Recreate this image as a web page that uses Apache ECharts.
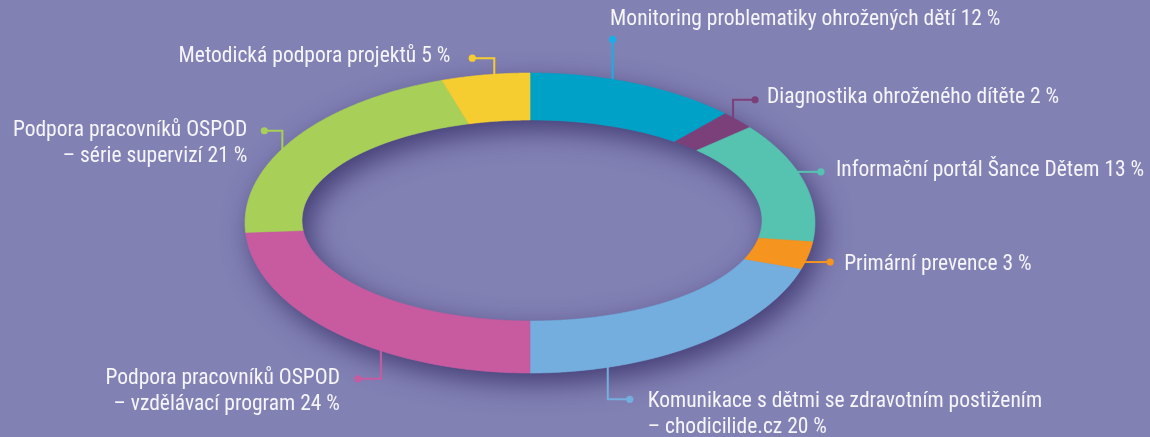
<!DOCTYPE html>
<html><head><meta charset="utf-8">
<script src="https://cdn.jsdelivr.net/npm/echarts@6/dist/echarts.min.js"></script>
<style>html,body{margin:0;padding:0;background:#8281b4;overflow:hidden}#c{width:1150px;height:437px}</style>
</head><body><div id="c"></div>
<script>
// ---- data ----
const categories = [
  'Monitoring problematiky ohrožených dětí',
  'Diagnostika ohroženého dítěte',
  'Informační portál Šance Dětem',
  'Primární prevence',
  'Komunikace s dětmi se zdravotním postižením\n– chodicilide.cz',
  'Podpora pracovníků OSPOD\n– vzdělávací program',
  'Podpora pracovníků OSPOD\n– série supervizí',
  'Metodická podpora projektů'
];
const values = [12, 2, 13, 3, 20, 24, 21, 5];

// ---- styles / layout ----
const colors = ['#00a1c7','#7b4079','#55c3b0','#f5941f','#73aedf','#c85aa0','#a8d058','#f6cd31'];
const lineColors = ['#1aaee6','#7b4079','#55c3b0','#f5941f','#73aedf','#c85aa0','#a8d058','#f6cd31'];
const geo = { cx: 530, cy: 223, rx: 285, ry: 150, icx: 532, icy: 220.5, irx: 230, iry: 100.5 };
const FONT = '"Liberation Sans Narrow", "Roboto Condensed", "DejaVu Sans Condensed", sans-serif';
const FS = 21.5, LH = 26;
// leader: fraction inside slice where line meets ring, elbow segments, text offset from dot
const labelLayout = [
  { frac: 0.39, path: [[0, -40]],          tx: -2.5, ty: -20, align: 'left' },
  { frac: 0.31, path: [[0, -18], [22, 0]], tx: 12,   ty: -2,  align: 'left' },
  { frac: 0.42, path: [[23, 0]],           tx: 15,   ty: -1,  align: 'left' },
  { frac: 0.73, path: [[25, 0]],           tx: 14,   ty: 3,   align: 'left' },
  { frac: 0.78, path: [[0, 32], [22, 0]],  tx: 18,   ty: 2,   align: 'left' },
  { frac: 0.365,path: [[0, 28], [-23, 0]], tx: -18,  ty: 0,   align: 'right' },
  { frac: 0.44, path: [[0, -18], [-18, 0]],tx: -17,  ty: 0,   align: 'right' },
  { frac: 0.60, path: [[0, -16], [-22, 0]],tx: -22,  ty: -2,  align: 'right' }
];

const total = values.reduce((a, b) => a + b, 0);
const starts = [];
{ let acc = 0; values.forEach(v => { starts.push(acc); acc += v; }); }
const ang = p => p / total * Math.PI * 2;

function outerPt(t) { return [geo.cx + geo.rx * Math.sin(t), geo.cy - geo.ry * Math.cos(t)]; }
function innerPt(t) {
  const o = outerPt(t);
  const Dx = o[0] - geo.cx, Dy = o[1] - geo.cy;
  const a = Dx / geo.irx, b = Dy / geo.iry;
  const c0 = (geo.cx - geo.icx) / geo.irx, d0 = (geo.cy - geo.icy) / geo.iry;
  const A = a * a + b * b, B = 2 * (a * c0 + b * d0), C = c0 * c0 + d0 * d0 - 1;
  const s = (-B + Math.sqrt(B * B - 4 * A * C)) / (2 * A);
  return [geo.cx + s * Dx, geo.cy + s * Dy];
}
function ringPoints(a0, a1) {
  const n = Math.max(2, Math.ceil((a1 - a0) / (Math.PI / 360)));
  const pts = [];
  for (let i = 0; i <= n; i++) pts.push(outerPt(a0 + (a1 - a0) * i / n));
  for (let i = n; i >= 0; i--) pts.push(innerPt(a0 + (a1 - a0) * i / n));
  return pts;
}

const chart = echarts.init(document.getElementById('c'), null, { renderer: 'canvas' });
chart.setOption({
  backgroundColor: '#8281b4',
  animation: false,
  series: [
    {
      type: 'custom', coordinateSystem: 'none', z: 1, silent: true,
      data: [total],
      renderItem: function (params, api) {
        return {
          type: 'polygon',
          shape: { points: ringPoints(0, ang(api.value(0))) },
          style: { fill: '#6a6aa0', shadowBlur: 28, shadowColor: 'rgba(45,38,95,0.75)', shadowOffsetX: 7, shadowOffsetY: 10 }
        };
      }
    },
    {
      type: 'custom', coordinateSystem: 'none', z: 2, silent: true,
      data: values,
      renderItem: function (params, api) {
        const i = params.dataIndex;
        const v = api.value(0);
        const a0 = ang(starts[i]), a1 = ang(starts[i] + v);
        const L = labelLayout[i];
        const anchor = outerPt(a0 + (a1 - a0) * L.frac);
        const first = L.path[0];
        const len = Math.hypot(first[0], first[1]);
        const pts = [[anchor[0] - first[0] / len * 5, anchor[1] - first[1] / len * 5], anchor.slice()];
        let cur = anchor.slice();
        L.path.forEach(s => { cur = [cur[0] + s[0], cur[1] + s[1]]; pts.push(cur); });
        const dot = cur;
        return {
          type: 'group',
          children: [
            { type: 'polyline', shape: { points: pts }, style: { stroke: lineColors[i], lineWidth: 2, fill: null } },
            { type: 'polygon', shape: { points: ringPoints(a0, a1) }, style: { fill: colors[i], stroke: colors[i], lineWidth: 0.6 } },
            { type: 'circle', shape: { cx: dot[0], cy: dot[1], r: 3.6 }, style: { fill: lineColors[i] } },
            { type: 'text', style: {
                text: categories[i] + ' ' + v + ' %',
                x: dot[0] + L.tx, y: dot[1] + L.ty - LH / 2,
                fill: '#f6f5fa', fontSize: FS, fontFamily: FONT, lineHeight: LH,
                align: L.align, verticalAlign: 'top'
            } }
          ]
        };
      }
    }
  ]
});
</script></body></html>
